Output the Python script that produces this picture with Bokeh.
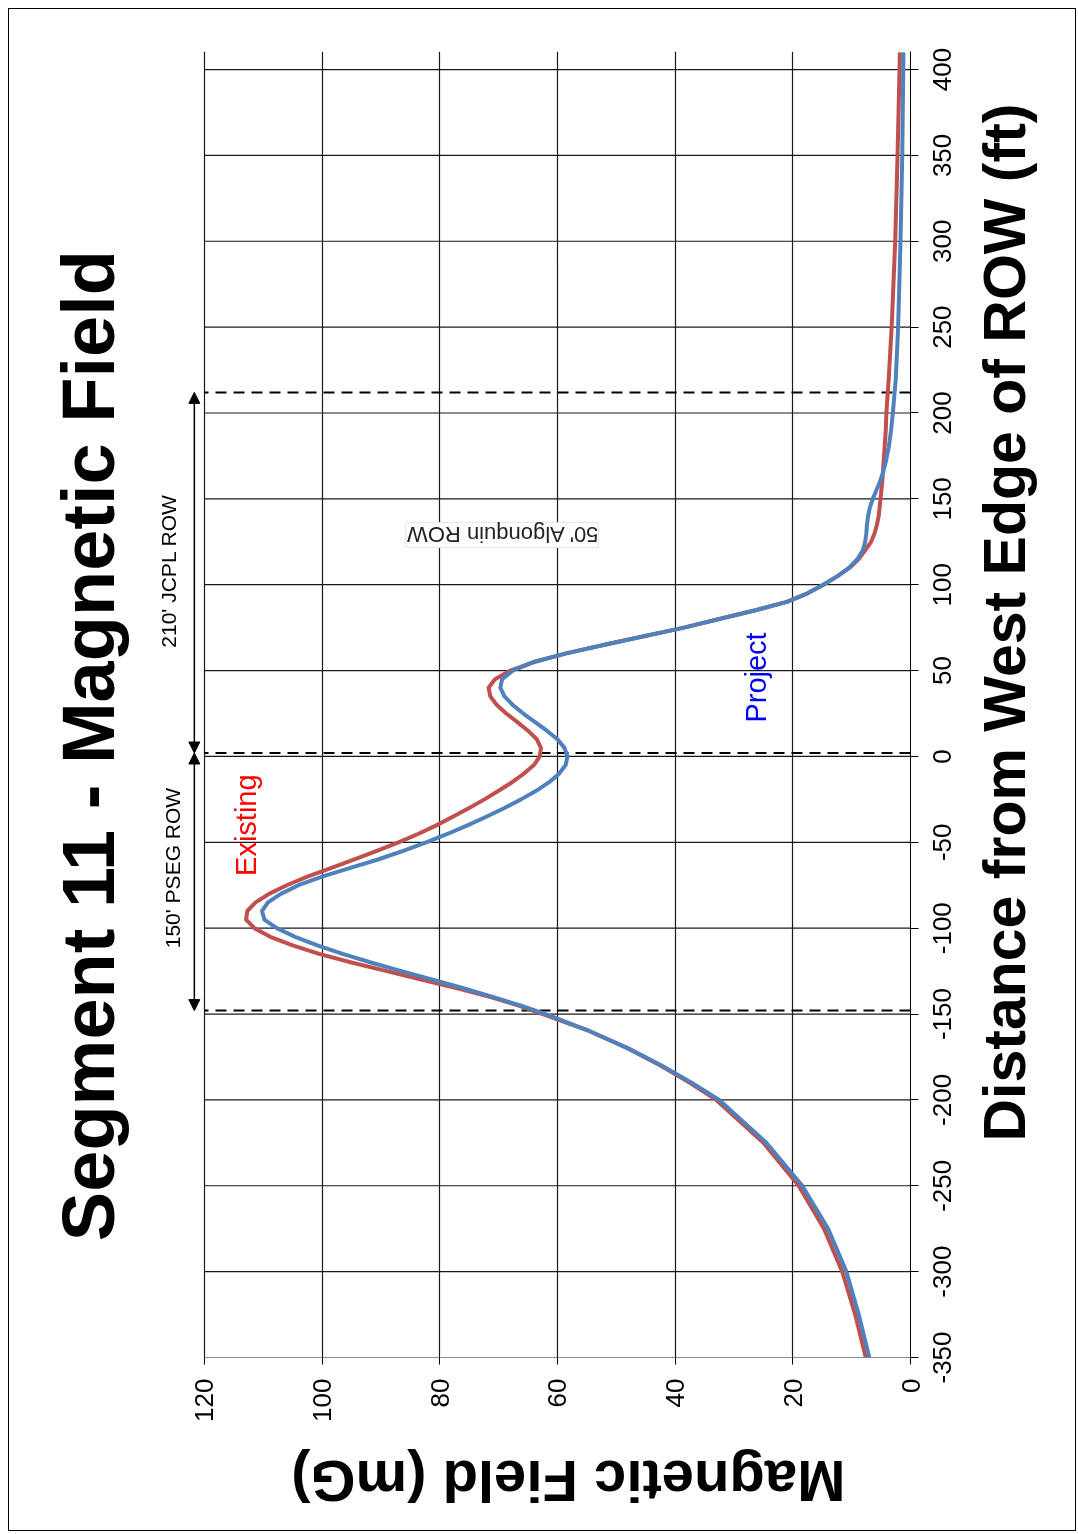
import math
from bokeh.plotting import figure
from bokeh.models import Range1d, FixedTicker, Label, Arrow, NormalHead, Div
from bokeh.embed import file_html
from bokeh.resources import INLINE

# ---- data ----
distance_ft = [-350, -325, -300, -275, -250, -225, -200, -190, -180, -170, -160, -150, -145,
               -140, -135, -130, -125, -120, -115, -110, -105, -100, -95, -90, -85, -80, -75,
               -70, -65, -60, -55, -50, -45, -40, -35, -30, -25, -20, -15, -10, -5, 0, 5, 10,
               15, 20, 25, 30, 35, 40, 45, 50, 55, 60, 65, 70, 75, 80, 85, 90, 95, 100, 105,
               110, 115, 120, 125, 130, 135, 140, 145, 150, 155, 160, 165, 170, 180, 190, 200,
               220, 250, 300, 350, 410]
existing_mg = [7.6, 9.4, 11.6, 14.7, 19.0, 25.0, 33.0, 37.5, 42.5, 48.0, 54.5, 62.5, 66.7,
               71.5, 77.0, 83.0, 89.0, 95.0, 100.5, 105.0, 108.8, 111.5, 112.9, 112.7, 111.3,
               109.0, 106.0, 102.5, 98.5, 94.5, 90.7, 87.0, 83.6, 80.5, 77.7, 75.0, 72.4, 70.0,
               67.7, 65.7, 64.0, 63.0, 62.8, 63.5, 65.0, 66.8, 68.7, 70.3, 71.4, 71.7, 70.6,
               68.0, 64.0, 58.5, 52.0, 45.3, 38.5, 32.5, 26.5, 21.0, 17.5, 14.8, 12.4, 10.3,
               8.8, 7.7, 6.7, 6.1, 5.7, 5.4, 5.25, 5.1, 4.95, 4.8, 4.7, 4.6, 4.4, 4.2, 4.1,
               3.7, 3.2, 2.6, 2.2, 1.8]
project_mg = [7.0, 8.8, 10.9, 14.0, 18.4, 24.5, 32.5, 37.2, 42.3, 48.0, 54.5, 62.0, 66.3,
              71.0, 76.0, 81.2, 86.5, 91.7, 96.5, 100.8, 104.6, 107.7, 109.8, 110.2, 109.2,
              107.0, 104.0, 100.0, 95.3, 90.5, 86.2, 82.3, 78.6, 75.2, 72.0, 69.0, 66.2, 63.6,
              61.4, 59.7, 58.6, 58.3, 58.8, 60.0, 61.8, 63.8, 65.8, 67.6, 69.0, 69.7, 69.4,
              67.6, 64.0, 58.5, 52.0, 45.3, 38.5, 32.5, 26.5, 21.0, 17.5, 14.8, 12.4, 10.4,
              9.0, 8.1, 7.7, 7.5, 7.4, 7.2, 6.9, 6.4, 5.8, 5.2, 4.7, 4.3, 3.7, 3.3, 3.0,
              2.5, 2.1, 1.7, 1.4, 1.2]
row_edges_ft = [-148, 2, 212]
distance_ticks = [-350, -300, -250, -200, -150, -100, -50, 0, 50, 100, 150, 200, 250, 300, 350, 400]
field_ticks = [0, 20, 40, 60, 80, 100, 120]

FONT = "Liberation Sans"
NB = "\u00a0"

# The chart is drawn upright and turned 90 degrees counter-clockwise with CSS.
# Bokeh sizes its canvas from the (rotated) on-page box, so the figure is declared
# with the page's width/height and its canvas ends up 1523 x 1068 before turning.
PAGE_W, PAGE_H = 1068, 1523
p = figure(width=PAGE_W, height=PAGE_H,
           x_range=Range1d(-350, 410.5), y_range=Range1d(0, 130),
           output_backend="svg", toolbar_location=None,
           min_border_left=173, min_border_right=44, min_border_top=137, min_border_bottom=166,
           background_fill_color="white", border_fill_color="white",
           title="Segment 11  - Magnetic Field" + NB * 3)
p.styles = {
    "position": "fixed",
    "left": "0px",
    "top": "0px",
    "transform-origin": "0 0",
    "transform": f"translate(8px, {8 + PAGE_H}px) rotate(-90deg)",
}
p.outline_line_color = None

p.title.align = "center"
p.title.standoff = 32
p.title.text_font = FONT
p.title.text_font_size = "74px"
p.title.text_font_style = "bold"
p.title.text_color = "black"

# grid: field lines across the whole distance range, distance lines only over 0..120 mG
p.ygrid.ticker = FixedTicker(ticks=field_ticks)
p.ygrid.grid_line_color = "#1a1a1a"
p.ygrid.grid_line_width = 1.2
p.xgrid.visible = False
p.segment(x0=distance_ticks, y0=[field_ticks[0]] * len(distance_ticks),
          x1=distance_ticks, y1=[field_ticks[-1]] * len(distance_ticks),
          line_color="#1a1a1a", line_width=1.2)

# axes
p.xaxis.ticker = FixedTicker(ticks=distance_ticks)
p.xaxis.major_label_overrides = {t: str(t) for t in distance_ticks}
p.yaxis.ticker = FixedTicker(ticks=field_ticks)
for ax in (p.xaxis, p.yaxis):
    ax.major_tick_in = 0
    ax.minor_tick_line_color = None
    ax.major_tick_line_color = "black"
    ax.major_label_text_font = FONT
    ax.major_label_text_font_size = "26px"
    ax.major_label_text_color = "black"
    ax.axis_label_text_font = FONT
    ax.axis_label_text_font_style = "bold"
    ax.axis_label_text_color = "black"
p.xaxis.major_tick_out = 8
p.xaxis.major_label_standoff = 14
p.xaxis.axis_line_color = "black"
p.xaxis.axis_label = NB * 10 + "Distance from West Edge of ROW (ft)"
p.xaxis.axis_label_text_font_size = "59px"
p.xaxis.axis_label_standoff = 18

p.yaxis.major_tick_out = 7
p.yaxis.major_label_standoff = 14
p.yaxis.axis_line_color = None
p.yaxis.axis_label = "Magnetic Field (mG)" + NB * 5
p.yaxis.axis_label_text_font_size = "58px"
p.yaxis.axis_label_standoff = 24

# ROW edges (dashed)
p.segment(x0=row_edges_ft, y0=[field_ticks[0]] * 3, x1=row_edges_ft, y1=[field_ticks[-1]] * 3,
          line_color="black", line_width=2, line_dash="11 7")

# curves
p.line(x=distance_ft, y=existing_mg, line_color="#C0504D", line_width=4, line_join="round")
p.line(x=distance_ft, y=project_mg, line_color="#4F81BD", line_width=4, line_join="round")

# ROW arrows
for a, b in ((row_edges_ft[0], row_edges_ft[1]), (row_edges_ft[1], row_edges_ft[2])):
    p.add_layout(Arrow(x_start=a, y_start=121.7, x_end=b, y_end=121.7, line_width=1.5,
                       line_color="black",
                       start=NormalHead(size=11, fill_color="black", line_color="black"),
                       end=NormalHead(size=11, fill_color="black", line_color="black")))

# text annotations
def lab(x, y, text, size, color, angle=0.0, **kw):
    p.add_layout(Label(x=x, y=y, text=text, angle=angle, text_align="center",
                       text_baseline="middle", text_font=FONT, text_font_size=size,
                       text_color=color, **kw))

lab(-65, 125.4, "150' PSEG ROW", "21px", "black")
lab(108, 126.1, "210' JCPL ROW", "21px", "black")
lab(129, 69.4, "50' Algonquin ROW", "22px", "#222222", angle=math.pi / 2,
    background_fill_color="white", border_line_color="#e4e4e4")
lab(-40, 112.9, "Existing", "29px", "#FF0000")
lab(46, 26.3, "Project", "29px", "#0000FF")

# page border around the chart
border = Div(text="", width=PAGE_W, height=PAGE_H, margin=0,
             styles={"position": "fixed", "left": "8px", "top": "8px",
                     "box-sizing": "border-box", "border": "1px solid black",
                     "pointer-events": "none", "z-index": "10"})

open("out.html", "w").write(file_html([p, border], INLINE))
